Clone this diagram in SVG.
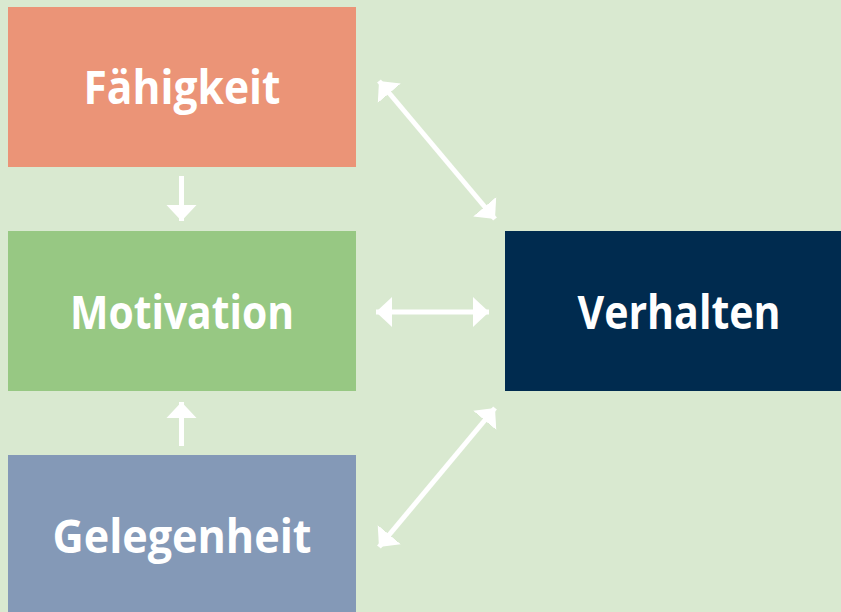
<svg xmlns="http://www.w3.org/2000/svg" width="841" height="612" viewBox="0 0 841 612">
<style>
.lbl{font-family:"Open Sans","Liberation Sans",sans-serif;font-weight:700;font-size:47px;fill:#fff;text-anchor:middle}
.con{stroke:#fff;stroke-width:5;fill:none}
</style>
<defs>
<marker id="ah" markerUnits="userSpaceOnUse" markerWidth="18" markerHeight="32" viewBox="0 0 18 32" refX="16" refY="16" orient="auto-start-reverse">
<path d="M0,1 L16,16 L0,31 Z" fill="#fff"/>
</marker>
</defs>
<rect width="841" height="612" fill="#d9e9d0"/>
<g id="faehigkeit"><rect x="8" y="7" width="348" height="160" fill="#eb9477"/><text class="lbl" x="182" y="104" textLength="197" lengthAdjust="spacingAndGlyphs">Fähigkeit</text></g>
<g id="motivation"><rect x="8" y="231" width="348" height="160" fill="#97c883"/><text class="lbl" x="182" y="329" textLength="224" lengthAdjust="spacingAndGlyphs">Motivation</text></g>
<g id="gelegenheit"><rect x="8" y="455" width="348" height="157" fill="#8499b7"/><text class="lbl" x="182" y="553" textLength="259" lengthAdjust="spacingAndGlyphs">Gelegenheit</text></g>
<g id="verhalten"><rect x="505" y="231" width="336" height="160" fill="#002b4f"/><text class="lbl" x="679" y="329" textLength="203" lengthAdjust="spacingAndGlyphs">Verhalten</text></g>
<g id="connectors">
<line class="con" x1="181.5" y1="176" x2="181.5" y2="221" marker-end="url(#ah)"/>
<line class="con" x1="181.5" y1="446" x2="181.5" y2="402" marker-end="url(#ah)"/>
<line class="con" x1="376" y1="312" x2="489" y2="312" marker-start="url(#ah)" marker-end="url(#ah)"/>
<line class="con" x1="379" y1="81" x2="495" y2="219" marker-start="url(#ah)" marker-end="url(#ah)"/>
<line class="con" x1="379" y1="547" x2="495" y2="408" marker-start="url(#ah)" marker-end="url(#ah)"/>
</g>
</svg>
